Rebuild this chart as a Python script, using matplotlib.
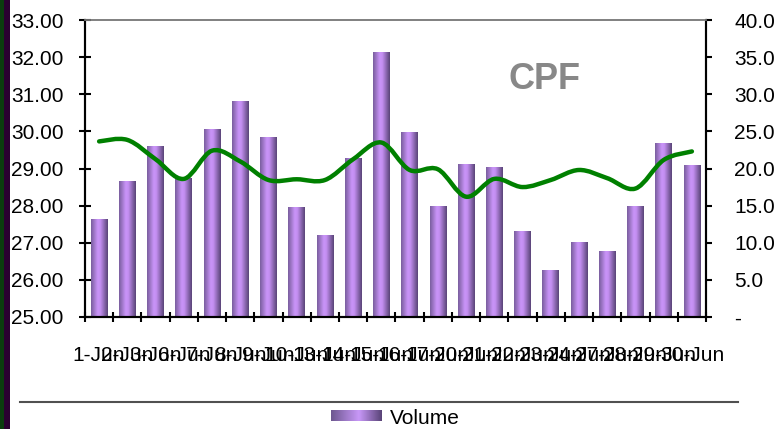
import matplotlib
matplotlib.use("Agg")
import matplotlib.pyplot as plt
import numpy as np
from matplotlib.colors import LinearSegmentedColormap
from matplotlib.lines import Line2D
from matplotlib.patches import PathPatch, Rectangle
from matplotlib.path import Path

plt.rcParams["font.family"] = ["Liberation Sans", "DejaVu Sans"]

# data
dates = ["1-Jun", "2-Jun", "3-Jun", "6-Jun", "7-Jun", "8-Jun", "9-Jun", "10-Jun",
         "13-Jun", "14-Jun", "15-Jun", "16-Jun", "17-Jun", "20-Jun", "21-Jun",
         "22-Jun", "23-Jun", "24-Jun", "27-Jun", "28-Jun", "29-Jun", "30-Jun"]
volume = [13.1, 18.2, 23.0, 18.7, 25.2, 29.0, 24.2, 14.7, 11.0, 21.4, 35.6,
          24.8, 14.9, 20.5, 20.1, 11.5, 6.3, 10.1, 8.8, 14.9, 23.3, 20.4]
price = [29.73, 29.77, 29.25, 28.72, 29.48, 29.19, 28.69, 28.71, 28.69, 29.25, 29.70,
         28.96, 28.98, 28.24, 28.72, 28.50, 28.69, 28.96, 28.74, 28.46, 29.23, 29.46]
price_ticks = [25, 26, 27, 28, 29, 30, 31, 32, 33]
vol_ticks = [0, 5, 10, 15, 20, 25, 30, 35, 40]
vol_labels = ["-", "5.0", "10.0", "15.0", "20.0", "25.0", "30.0", "35.0", "40.0"]

W, H = 780, 429
fig = plt.figure(figsize=(W / 100, H / 100), dpi=100)
fig.patch.set_facecolor("white")

# left edge stripes
fig.add_artist(Rectangle((0, 0), 4 / W, 1, transform=fig.transFigure, color="#0b3d0e", lw=0))
fig.add_artist(Rectangle((4 / W, 0), 6 / W, 1, transform=fig.transFigure, color="#2a0030", lw=0))

ax = fig.add_axes([85 / W, 1 - 317 / H, (706 - 85) / W, (317 - 20) / H])
ax2 = ax.twinx()

bar_cmap = LinearSegmentedColormap.from_list(
    "bar", [(0.0, "#7a5e9e"), (0.4, "#c994f8"), (0.55, "#c48ff2"), (1.0, "#5a4478")])
grad = np.linspace(0, 1, 64).reshape(1, -1)

x = np.arange(len(dates))
bw = 0.59
for xi, v in zip(x, volume):
    ax.imshow(grad, extent=[xi - bw / 2, xi + bw / 2, 0, v], aspect="auto",
              cmap=bar_cmap, interpolation="bilinear", zorder=2)

ax.set_xlim(-0.5, len(dates) - 0.5)
ax.set_ylim(0, 40)
ax.yaxis.tick_right()
ax.set_yticks(vol_ticks)
ax.set_yticklabels(vol_labels)
ax.tick_params(axis="y", direction="out", length=4.5, width=1.5, pad=16, labelsize=15)

ax.set_xticks(x)
ax.set_xticklabels(dates)
ax.set_xticks(np.arange(len(dates) + 1) - 0.5, minor=True)
ax.tick_params(axis="x", which="major", length=0, pad=21, labelsize=15)
ax.tick_params(axis="x", which="minor", direction="inout", length=7.5, width=1.5)

# smoothed price line (Excel-style bezier through the points)
pts = np.column_stack([x, price]).astype(float)
verts = [tuple(pts[0])]
codes = [Path.MOVETO]
for i in range(len(pts) - 1):
    p0 = pts[max(i - 1, 0)]
    p1 = pts[i]
    p2 = pts[i + 1]
    p3 = pts[min(i + 2, len(pts) - 1)]
    c1 = p1 + (p2 - p0) / 6
    c2 = p2 - (p3 - p1) / 6
    verts += [tuple(c1), tuple(c2), tuple(p2)]
    codes += [Path.CURVE4] * 3
ax2.add_patch(PathPatch(Path(verts, codes), fill=False, edgecolor="#008000",
                        lw=3.2, capstyle="round", joinstyle="round", zorder=3))

ax2.set_ylim(25, 33)
ax2.yaxis.tick_left()
ax2.set_yticks(price_ticks)
ax2.set_yticklabels([f"{t:.2f}" for t in price_ticks])
ax2.tick_params(axis="y", direction="inout", length=9, width=1.5, pad=11, labelsize=15)

for a in (ax, ax2):
    a.spines["top"].set_color("#808080")
    a.spines["top"].set_linewidth(1.2)
    for s in ("left", "right", "bottom"):
        a.spines[s].set_linewidth(1.5)
        a.spines[s].set_color("black")

ax2.text(0.74, 0.80, "CPF", transform=ax2.transAxes, ha="center", va="center",
         fontsize=26, fontweight="bold", color="#888888")

# legend area
fig.add_artist(Line2D([20 / W, 738 / W], [1 - 402 / H] * 2, color="#505050", lw=1.5))
lax = fig.add_axes([331 / W, 1 - 421 / H, 51 / W, 11 / H])
leg_cmap = LinearSegmentedColormap.from_list(
    "leg", [(0.0, "#6e5890"), (0.55, "#c898f8"), (1.0, "#5a4478")])
lax.imshow(grad, aspect="auto", cmap=leg_cmap, interpolation="bilinear")
lax.axis("off")
fig.text(390 / W, 1 - 419 / H, "Volume", fontsize=15, va="center", ha="left")

fig.savefig("out.png", dpi=100)
